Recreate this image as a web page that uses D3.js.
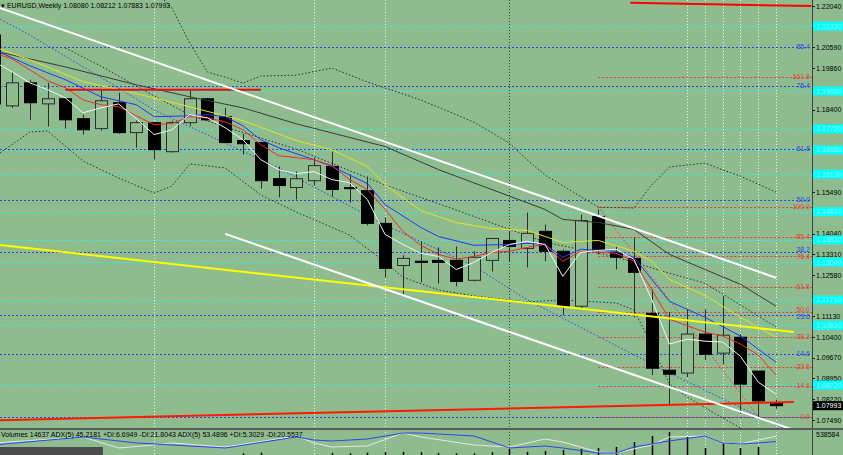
<!DOCTYPE html>
<html>
<head>
<meta charset="utf-8">
<script src="https://cdnjs.cloudflare.com/ajax/libs/d3/7.8.5/d3.min.js"></script>
<style>
  body { margin: 0; background: #8fbc8f; }
  svg { display: block; font-family: "Liberation Sans", Arial, sans-serif; }
</style>
</head>
<body>
<div id="chart"></div>
<script>
// weekly candles, index -1 .. 43
var weeks = d3.range(-1, 44);
var opens = [1.2102, 1.1853, 1.1934, 1.1860, 1.1878, 1.1808, 1.1773, 1.1864, 1.1759, 1.1794, 1.1692, 1.1794, 1.1878, 1.1815, 1.1731, 1.1724, 1.1597, 1.1566, 1.1590, 1.1640, 1.1566, 1.1555, 1.1440, 1.1292, 1.1307, 1.1310, 1.1310, 1.1240, 1.1310, 1.1380, 1.1352, 1.1412, 1.1342, 1.1149, 1.1464, 1.1338, 1.1317, 1.1124, 1.0924, 1.0914, 1.1051, 1.0984, 1.1040, 1.0921, 1.08080];
var highs = [1.2120, 1.1973, 1.1945, 1.1934, 1.1881, 1.1822, 1.1910, 1.1899, 1.1801, 1.1794, 1.1801, 1.1906, 1.1881, 1.1846, 1.1755, 1.1724, 1.1640, 1.1622, 1.1671, 1.1692, 1.1612, 1.1605, 1.1461, 1.1328, 1.1377, 1.1356, 1.1359, 1.1342, 1.1387, 1.1412, 1.1478, 1.1436, 1.1349, 1.1471, 1.1489, 1.1359, 1.1391, 1.1208, 1.1128, 1.1138, 1.1138, 1.1184, 1.1051, 1.0921, 1.08212];
var lows = [1.1839, 1.1846, 1.1804, 1.1780, 1.1773, 1.1752, 1.1766, 1.1755, 1.1706, 1.1664, 1.1689, 1.1783, 1.1801, 1.1724, 1.1682, 1.1562, 1.1531, 1.1524, 1.1573, 1.1534, 1.1513, 1.1433, 1.1250, 1.1191, 1.1233, 1.1229, 1.1219, 1.1236, 1.1271, 1.1307, 1.1285, 1.1307, 1.1117, 1.1138, 1.1331, 1.1278, 1.1110, 1.0907, 1.0805, 1.0900, 1.0959, 1.0945, 1.0770, 1.0760, 1.07883];
var closes = [1.1860, 1.1934, 1.1864, 1.1878, 1.1804, 1.1769, 1.1871, 1.1759, 1.1794, 1.1699, 1.1794, 1.1878, 1.1804, 1.1724, 1.1720, 1.1590, 1.1573, 1.1597, 1.1643, 1.1559, 1.1562, 1.1440, 1.1282, 1.1317, 1.1303, 1.1303, 1.1236, 1.1321, 1.1387, 1.1359, 1.1405, 1.1342, 1.1149, 1.1450, 1.1345, 1.1321, 1.1268, 1.0931, 1.0910, 1.1051, 1.0980, 1.1047, 1.0875, 1.0816, 1.07993];
var volumes = [170000, 165000, 172000, 160000, 168000, 175000, 180000, 172000, 166000, 185000, 170000, 178000, 176000, 190000, 232000, 240000, 195000, 188000, 192000, 236000, 232000, 240000, 246000, 250000, 246000, 236000, 232000, 230000, 246000, 290000, 250000, 262000, 276000, 290000, 304000, 318000, 387000, 470000, 525000, 456000, 304000, 373000, 304000, 318000, 14637];

// moving averages: [week, price]
var maWhite = [[-1,1.2008],[0,1.1973],[1,1.1934],[2,1.1910],[3,1.1881],[4,1.1829],[5,1.1846],[6,1.1860],[7,1.1808],[8,1.1752],[9,1.1769],[10,1.1822],[11,1.1811],[12,1.1776],[13,1.1734],[14,1.1664],[15,1.1629],[16,1.1615],[17,1.1622],[18,1.1594],[19,1.1583],[20,1.1524],[21,1.1401],[22,1.1366],[23,1.1335],[24,1.1324],[25,1.1278],[26,1.1303],[27,1.1338],[28,1.1366],[29,1.1377],[30,1.1366],[31,1.1254],[32,1.1338],[33,1.1345],[34,1.1349],[35,1.1314],[36,1.1173],[37,1.1016],[38,1.1033],[39,1.1026],[40,1.1023],[41,1.0973],[42,1.0882],[43,1.0840]];
var maRed = [[-1,1.2039],[0,1.2018],[2,1.1941],[3,1.1917],[4,1.1874],[5,1.1857],[6,1.1850],[7,1.1818],[8,1.1787],[9,1.1791],[10,1.1815],[11,1.1811],[12,1.1797],[13,1.1769],[14,1.1717],[15,1.1678],[16,1.1671],[17,1.1664],[18,1.1643],[19,1.1594],[20,1.1559],[21,1.1489],[22,1.1412],[23,1.1363],[24,1.1331],[25,1.1314],[26,1.1324],[27,1.1338],[28,1.1342],[29,1.1356],[30,1.1366],[31,1.1307],[32,1.1342],[34,1.1335],[35,1.1307],[36,1.1208],[37,1.1103],[39,1.1058],[40,1.1044],[41,1.1016],[42,1.0977],[43,1.0907]];
var maBlue = [[-1,1.2050],[1,1.1994],[3,1.1945],[5,1.1885],[7,1.1857],[8,1.1815],[10,1.1818],[11,1.1822],[12,1.1815],[13,1.1783],[14,1.1734],[15,1.1706],[17,1.1664],[18,1.1640],[20,1.1580],[21,1.1506],[23,1.1426],[24,1.1394],[26,1.1363],[28,1.1366],[29,1.1370],[30,1.1366],[31,1.1321],[32,1.1349],[34,1.1342],[35,1.1321],[37,1.1166],[39,1.1110],[41,1.1044],[43,1.0952]];
var maYellow = [[-1,1.2060],[1,1.2015],[4,1.1938],[7,1.1896],[10,1.1850],[13,1.1801],[16,1.1731],[18,1.1699],[20,1.1640],[21,1.1576],[23,1.1485],[25,1.1443],[27,1.1422],[29,1.1415],[31,1.1373],[33,1.1380],[35,1.1342],[36,1.1307],[37,1.1243],[39,1.1187],[41,1.1110],[43,1.1040]];
var maGray = [[-1,1.2046],[3,1.1990],[7,1.1927],[10,1.1885],[13,1.1846],[16,1.1790],[21,1.1710],[24,1.1629],[30,1.1489],[31,1.1454],[33,1.1443],[35,1.1419],[37,1.1331],[39,1.1278],[41,1.1226],[43,1.1149]];

// dotted bands
var bandUpper = [[8,1.2260],[9,1.2197],[10,1.2074],[11,1.1972],[12,1.1954],[13,1.1933],[14,1.1958],[16,1.1961],[18,1.1986],[20,1.1937],[23,1.1874],[26,1.1796],[28,1.1722],[29,1.1663],[30,1.1610],[33,1.1497],[35,1.1494],[36,1.1575],[37,1.1638],[39,1.1652],[40,1.1628],[41,1.1606],[43,1.1550]];
var bandLower = [[-1,1.1673],[1,1.1761],[2,1.1765],[4,1.1659],[6,1.1599],[8,1.1547],[9,1.1571],[10,1.1649],[12,1.1635],[14,1.1540],[16,1.1480],[19,1.1399],[21,1.1304],[22,1.1251],[24,1.1206],[26,1.1185],[29,1.1164],[31,1.1171],[34,1.1160],[35,1.1136],[36,1.1012],[37,1.0876],[38,1.0830],[40,1.0756],[41,1.0721],[43,1.0678]];
var envelope = [[3,1.2056],[5,1.1993],[8,1.1888],[10,1.1821],[12,1.1779],[16,1.1701],[21,1.1575],[25,1.1487],[30,1.1374],[34,1.1322],[37,1.1265],[39,1.1230],[43,1.1076]];
var blueDotted = [[-1,1.2169],[1,1.2102],[4,1.1990],[6,1.1916],[8,1.1838],[12,1.1722],[15,1.1635],[21,1.1434],[26,1.1290],[29,1.1171],[37,1.0914],[42,1.0763],[44,1.0703]];

// drawn objects
var channelUpper = [[-1,1.2204],[43,1.1249]];
var channelLower = [[12,1.1403],[44,1.0714]];
var yellowTrend = [[-1,1.1366],[44,1.1058]];
var redBottom = [[-1,1.0748],[44,1.0812]];
var redTop = [[34.8,1.2215],[45,1.2204]];
var redLevel = [[3,1.1910],[14,1.1910]];
var redFiboDiag = [[33,1.1499],[42,1.0760]];
var whiteVerticals = [8, 17, 21, 38, 39, 40, 41, 42, 43];
var darkVerticals = [28];

var blueFibo = [0, 14.6, 23.6, 38.2, 50.0, 61.8, 76.4, 85.4];
var redFibo = [0, 14.6, 23.6, 38.2, 50.0, 61.8, 76.4, 85.4, 100.0, 161.8];
var blueFiboLow = 1.0760, blueFiboHigh = 1.2281;
var redFiboLow = 1.0760, redFiboHigh = 1.1499, redFiboStart = 33;

var axisTicks = ["1.22040","1.21310","1.20590","1.19860","1.19130","1.18400","1.17670","1.16950","1.16220","1.15490","1.14770","1.14040","1.13310","1.12580","1.11860","1.11130","1.10400","1.09670","1.08950","1.08220","1.07490"];
var cyanLevels = ["1.21330","1.19050","1.17720","1.16980","1.16130","1.14810","1.13820","1.13040","1.11710","1.10820","1.08720"];

// indicator window
var adxBlue = [[-1,39.7],[4,52.4],[7,42.9],[8,41.3],[11,36.5],[12,34.9],[16,52.4],[17,47.6],[18,46.0],[20,49.2],[22,58.7],[23,58.7],[26,54.0],[28,34.9],[30,38.1],[31,34.9],[33,27.0],[34,27.0],[35,36.5],[37,46.0],[39,54.0],[40,42.9],[41,41.3],[42,42.9],[43,45.2]];
var adxWhite = [[-1,42.9],[4,52.4],[6,34.9],[8,39.7],[9,42.9],[12,36.5],[16,54.0],[17,42.9],[18,36.5],[20,38.1],[22,58.7],[23,52.4],[26,39.7],[28,36.5],[30,49.2],[31,44.4],[33,28.6],[34,27.0],[36,39.7],[37,52.4],[39,54.0],[40,42.9],[41,41.3],[42,47.6],[43,53.5]];
var title = "EURUSD,Weekly  1.08080 1.08212 1.07883 1.07993";
var indicatorText = "Volumes 14637  ADX(5) 45.2181  +DI:6.6949  -DI:21.8043  ADX(5) 53.4896  +DI:5.3029  -DI:20.5537";
var volumeMax = 538584;

var W = 843, H = 455, plotRight = 812, mainBottom = 428;

var svg = d3.select("#chart").append("svg")
    .attr("width", W)
    .attr("height", H);

svg.append("rect").attr("width", W).attr("height", H).attr("fill", "#8fbc8f");

var defs = svg.append("defs");
defs.append("clipPath").attr("id", "mainClip")
    .append("rect").attr("x", 0).attr("y", 0).attr("width", plotRight).attr("height", mainBottom);
defs.append("clipPath").attr("id", "panelClip")
    .append("rect").attr("x", 0).attr("y", 430).attr("width", plotRight).attr("height", 25);

var x = d3.scaleLinear().domain([0, 43]).range([12, 776]);
var y = d3.scaleLinear().domain([1.07490, 1.22040]).range([420, 6]);
var yVol = d3.scaleLinear().domain([0, volumeMax]).range([470, 431]);
var yAdx = d3.scaleLinear().domain([0, 100]).range([470, 407]);

function crisp(v) { return Math.round(v) + 0.5; }

var main = svg.append("g").attr("clip-path", "url(#mainClip)");
var panel = svg.append("g").attr("clip-path", "url(#panelClip)");

// vertical dotted lines
[main, panel].forEach(function (g) {
    g.selectAll(null).data(whiteVerticals).enter().append("line")
        .attr("x1", d => crisp(x(d))).attr("x2", d => crisp(x(d)))
        .attr("y1", 0).attr("y2", H)
        .attr("stroke", "#f2f2f2").attr("stroke-dasharray", "1,2");
    g.selectAll(null).data(darkVerticals).enter().append("line")
        .attr("x1", d => crisp(x(d))).attr("x2", d => crisp(x(d)))
        .attr("y1", 0).attr("y2", H)
        .attr("stroke", "#3a3a3a").attr("stroke-dasharray", "1,2");
});

// cyan levels
main.selectAll(null).data(cyanLevels).enter().append("line")
    .attr("x1", 0).attr("x2", plotRight)
    .attr("y1", d => crisp(y(+d))).attr("y2", d => crisp(y(+d)))
    .attr("stroke", "#3fe6d2").attr("stroke-dasharray", "3,2");

// fibonacci levels
function fiboPrice(lo, hi, lvl) { return lo + (hi - lo) * lvl / 100; }

main.selectAll(null).data(blueFibo).enter().append("line")
    .attr("x1", 0).attr("x2", plotRight)
    .attr("y1", d => crisp(y(fiboPrice(blueFiboLow, blueFiboHigh, d))))
    .attr("y2", d => crisp(y(fiboPrice(blueFiboLow, blueFiboHigh, d))))
    .attr("stroke", "#2b46e8").attr("stroke-dasharray", "2,2");

main.selectAll(null).data(redFibo).enter().append("line")
    .attr("x1", x(redFiboStart)).attr("x2", plotRight)
    .attr("y1", d => crisp(y(fiboPrice(redFiboLow, redFiboHigh, d))))
    .attr("y2", d => crisp(y(fiboPrice(redFiboLow, redFiboHigh, d))))
    .attr("stroke", "#e83a3a").attr("stroke-dasharray", "2,2");

var line = d3.line()
    .x(function (d) { return x(d[0]); })
    .y(function (d) { return y(d[1]); });

function dotted(data, color) {
    main.append("path").datum(data).attr("d", line)
        .attr("fill", "none").attr("stroke", color)
        .attr("stroke-width", 1).attr("stroke-dasharray", "1.5,2");
}
dotted(bandUpper, "#2e2e2e");
dotted(bandLower, "#2e2e2e");
dotted(envelope, "#2e2e2e");
dotted(blueDotted, "#2b46e8");
dotted(redFiboDiag, "#e83a3a");

// candles
var candles = weeks.map(function (w, k) {
    return { w: w, o: opens[k], h: highs[k], l: lows[k], c: closes[k], v: volumes[k] };
});

main.selectAll(".wick").data(candles).enter().append("line")
    .attr("class", "wick")
    .attr("x1", d => crisp(x(d.w))).attr("x2", d => crisp(x(d.w)))
    .attr("y1", d => y(d.h)).attr("y2", d => y(d.l))
    .attr("stroke", "#2c2c2c");

main.selectAll(".body").data(candles).enter().append("rect")
    .attr("class", "body")
    .attr("x", d => Math.round(x(d.w)) - 6 + 0.5)
    .attr("y", d => y(Math.max(d.o, d.c)))
    .attr("width", 12)
    .attr("height", d => Math.max(1, y(Math.min(d.o, d.c)) - y(Math.max(d.o, d.c))))
    .attr("fill", d => d.c > d.o ? "#8fbc8f" : "#000000")
    .attr("stroke", d => d.c > d.o ? "#2c2c2c" : "#000000");

// moving averages
function ma(data, color) {
    main.append("path").datum(data).attr("d", line)
        .attr("fill", "none").attr("stroke", color).attr("stroke-width", 1);
}
ma(maGray, "#3a3a3a");
ma(maYellow, "#e4e41c");
ma(maBlue, "#2236ff");
ma(maRed, "#f02a2a");
ma(maWhite, "#f4f4f4");

// trend lines
function trend(data, color) {
    main.append("path").datum(data).attr("d", line)
        .attr("fill", "none").attr("stroke", color).attr("stroke-width", 2);
}
trend(redLevel, "#ff0000");
trend(redTop, "#ff0000");
trend(redBottom, "#ff1a00");
trend(yellowTrend, "#ffff00");
trend(channelUpper, "#ffffff");
trend(channelLower, "#ffffff");

// fibo texts, pushed apart a little where two sets share a spot
var fiboLabels = blueFibo.filter(d => d > 0).map(function (d) {
    return { t: d.toFixed(1), c: "#2b46e8", y: y(fiboPrice(blueFiboLow, blueFiboHigh, d)) };
}).concat(redFibo.map(function (d) {
    return { t: d.toFixed(1), c: "#e83a3a", y: y(fiboPrice(redFiboLow, redFiboHigh, d)) };
}));
fiboLabels.sort((a, b) => a.y - b.y);
for (var i = 1; i < fiboLabels.length; i++) {
    var gap = fiboLabels[i].y - fiboLabels[i - 1].y;
    if (gap < 7) {
        fiboLabels[i - 1].y -= (7 - gap) / 2;
        fiboLabels[i].y += (7 - gap) / 2;
    }
}
svg.selectAll(null).data(fiboLabels).enter().append("text")
    .attr("x", 810)
    .attr("y", d => d.y + 2)
    .attr("text-anchor", "end")
    .style("font-size", "7px")
    .attr("fill", d => d.c)
    .text(d => d.t);

// title
svg.append("text").attr("x", 1).attr("y", 8)
    .style("font-size", "7px").attr("fill", "#000")
    .text("\u25BE " + title);

// price axis
svg.append("line").attr("x1", plotRight + 0.5).attr("x2", plotRight + 0.5)
    .attr("y1", 0).attr("y2", H).attr("stroke", "#404040");

svg.selectAll(null).data(axisTicks).enter().append("line")
    .attr("x1", plotRight).attr("x2", plotRight + 3)
    .attr("y1", d => crisp(y(+d))).attr("y2", d => crisp(y(+d)))
    .attr("stroke", "#202020");

// labels that sit under a cyan tag are hidden, as in the terminal
var shownTicks = axisTicks.filter(function (t) {
    return cyanLevels.every(c => Math.abs(y(+c) - y(+t)) > 5);
});
svg.selectAll(null).data(shownTicks).enter().append("text")
    .attr("x", 816).attr("y", d => y(+d) + 2.5)
    .style("font-size", "7px").attr("fill", "#000")
    .text(d => d);

var cyanTag = svg.selectAll(null).data(cyanLevels).enter().append("g")
    .attr("transform", d => "translate(813," + y(+d) + ")");
cyanTag.append("rect").attr("x", 0).attr("y", -4.5).attr("width", 30).attr("height", 9)
    .attr("fill", "#00ffff");
cyanTag.append("text").attr("x", 3).attr("y", 2.5)
    .style("font-size", "7px").attr("fill", "#9ef2f2")
    .text(d => d);

var last = candles[candles.length - 1];
svg.append("rect").attr("x", 813).attr("y", y(last.c) - 4.5)
    .attr("width", 30).attr("height", 9).attr("fill", "#000");
svg.append("text").attr("x", 816).attr("y", y(last.c) + 2.5)
    .style("font-size", "7px").attr("fill", "#fff")
    .text(last.c.toFixed(5));

// indicator window
svg.append("line").attr("x1", 0).attr("x2", W).attr("y1", 429).attr("y2", 429)
    .attr("stroke", "#5a5a5a").attr("stroke-width", 2);

panel.selectAll(".vol").data(candles).enter().append("line")
    .attr("class", "vol")
    .attr("x1", d => crisp(x(d.w))).attr("x2", d => crisp(x(d.w)))
    .attr("y1", yVol(0)).attr("y2", d => yVol(d.v))
    .attr("stroke", "#000").attr("stroke-width", 1.5);

var adxLine = d3.line()
    .x(function (d) { return x(d[0]); })
    .y(function (d) { return yAdx(d[1]); });
panel.append("path").datum(adxWhite).attr("d", adxLine)
    .attr("fill", "none").attr("stroke", "#e6e6e6").attr("stroke-width", 1);
panel.append("path").datum(adxBlue).attr("d", adxLine)
    .attr("fill", "none").attr("stroke", "#2b46e8").attr("stroke-width", 1);

svg.append("text").attr("x", 1).attr("y", 437)
    .style("font-size", "7px").attr("fill", "#000")
    .text(indicatorText);
svg.append("text").attr("x", 816).attr("y", 437)
    .style("font-size", "7px").attr("fill", "#000")
    .text(volumeMax);

svg.append("rect").attr("x", 0).attr("y", 447).attr("width", 103).attr("height", 8)
    .attr("fill", "#4c4c4c");
</script>
</body>
</html>
